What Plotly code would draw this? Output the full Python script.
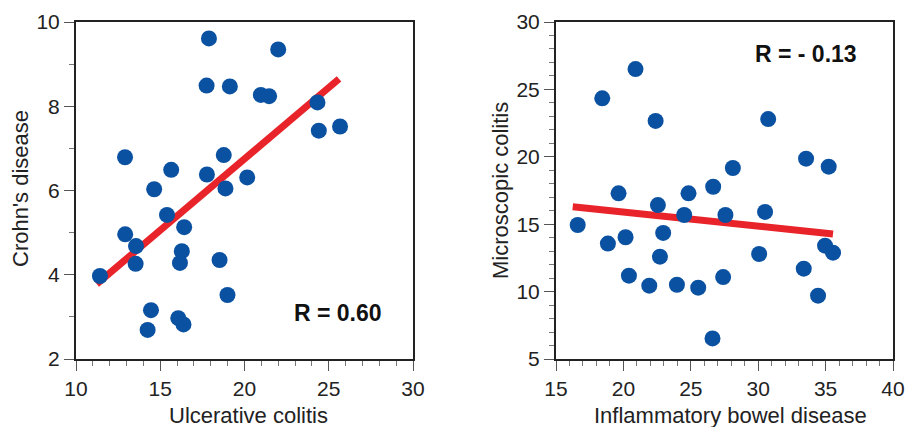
import plotly.graph_objects as go

# Left panel: Ulcerative colitis vs Crohn's disease
uc_x = [17.89, 22.0, 17.75, 19.13, 20.97, 21.46, 24.33, 24.41, 25.67, 12.91,
        15.65, 18.77, 17.77, 20.16, 18.87, 14.64, 15.40, 16.42, 12.92, 13.56,
        13.54, 16.28, 16.17, 18.52, 11.42, 18.99, 14.45, 14.25, 16.07, 16.38]
cd_y = [9.61, 9.35, 8.49, 8.47, 8.27, 8.24, 8.09, 7.42, 7.52, 6.79,
        6.49, 6.84, 6.38, 6.31, 6.05, 6.03, 5.42, 5.13, 4.96, 4.68,
        4.26, 4.56, 4.28, 4.35, 3.97, 3.52, 3.16, 2.69, 2.97, 2.82]
fit1_x = [11.23, 25.61]
fit1_y = [3.78, 8.65]

# Right panel: IBD vs Microscopic colitis
ibd_x = [20.90, 18.43, 22.39, 30.74, 33.55, 35.23, 28.12, 26.66, 24.83, 19.64,
         22.56, 24.51, 27.57, 30.51, 16.61, 18.85, 20.16, 22.95, 22.71, 30.07,
         34.96, 35.55, 33.38, 20.41, 21.92, 23.97, 25.55, 27.40, 34.44, 26.61]
mc_y = [26.51, 24.34, 22.66, 22.80, 19.86, 19.27, 19.17, 17.78, 17.29, 17.29,
        16.42, 15.68, 15.68, 15.91, 14.94, 13.56, 14.03, 14.35, 12.59, 12.79,
        13.41, 12.89, 11.70, 11.18, 10.44, 10.51, 10.29, 11.08, 9.70, 6.53]
fit2_x = [16.24, 35.55]
fit2_y = [16.30, 14.27]

DOT = "#0a51a1"
RED = "#e8242a"
FONT = "Liberation Sans, Arial, Helvetica, sans-serif"

fig = go.Figure()
fig.add_trace(go.Scatter(x=fit1_x, y=fit1_y, mode="lines",
                         line=dict(color=RED, width=7), xaxis="x", yaxis="y",
                         showlegend=False, hoverinfo="skip"))
fig.add_trace(go.Scatter(x=uc_x, y=cd_y, mode="markers",
                         marker=dict(color=DOT, size=16, line=dict(width=0)),
                         xaxis="x", yaxis="y", showlegend=False))
fig.add_trace(go.Scatter(x=fit2_x, y=fit2_y, mode="lines",
                         line=dict(color=RED, width=7), xaxis="x2", yaxis="y2",
                         showlegend=False, hoverinfo="skip"))
fig.add_trace(go.Scatter(x=ibd_x, y=mc_y, mode="markers",
                         marker=dict(color=DOT, size=16, line=dict(width=0)),
                         xaxis="x2", yaxis="y2", showlegend=False))

W, H = 907, 427
ydom = [1 - 359 / H, 1 - 22 / H]

def ax(rng, dtick, dom, anchor):
    return dict(range=rng, dtick=dtick, domain=dom, anchor=anchor,
                automargin=False,
                showgrid=False, zeroline=False, showline=True, mirror=True,
                linecolor="#222222", linewidth=2,
                ticks="outside", ticklen=10, tickwidth=1, tickcolor="#555555",
                minor=dict(dtick=1, ticks="outside", ticklen=5, tickwidth=1,
                           tickcolor="#777777", showgrid=False),
                tickfont=dict(family=FONT, size=21, color="#222222"),
                fixedrange=True)

fig.update_layout(
    width=W, height=H, margin=dict(l=0, r=0, t=0, b=0, autoexpand=False),
    paper_bgcolor="white", plot_bgcolor="white",
    xaxis=ax([10, 30], 5, [76 / W, 413 / W], "y"),
    yaxis=ax([2, 10], 2, ydom, "x"),
    xaxis2=ax([15, 40], 5, [556 / W, 893 / W], "y2"),
    yaxis2=ax([5, 30], 5, ydom, "x2"),
    annotations=[
        dict(text="<b>R = 0.60</b>", x=25.55, y=3.10, xref="x", yref="y",
             showarrow=False, font=dict(family=FONT, size=23, color="#111111"),
             xanchor="center", yanchor="middle"),
        dict(text="<b>R = - 0.13</b>", x=33.58, y=27.63, xref="x2", yref="y2",
             showarrow=False, font=dict(family=FONT, size=23, color="#111111"),
             xanchor="center", yanchor="middle"),
        dict(text="Ulcerative colitis", x=248 / W, y=1 - 415 / H,
             xref="paper", yref="paper", showarrow=False,
             font=dict(family=FONT, size=22, color="#222222"),
             xanchor="center", yanchor="middle"),
        dict(text="Crohn's disease", x=20 / W, y=1 - 189 / H,
             xref="paper", yref="paper", showarrow=False, textangle=-90,
             font=dict(family=FONT, size=22, color="#222222"),
             xanchor="center", yanchor="middle"),
        dict(text="Inflammatory bowel disease", x=730 / W, y=1 - 415 / H,
             xref="paper", yref="paper", showarrow=False,
             font=dict(family=FONT, size=22, color="#222222"),
             xanchor="center", yanchor="middle"),
        dict(text="Microscopic colitis", x=500 / W, y=1 - 191 / H,
             xref="paper", yref="paper", showarrow=False, textangle=-90,
             font=dict(family=FONT, size=22, color="#222222"),
             xanchor="center", yanchor="middle"),
    ],
)

fig.write_html("out.html",
               config={"displayModeBar": False, "staticPlot": True},
               post_script="document.body.style.margin='0';"
                           "document.body.style.overflow='hidden';")
